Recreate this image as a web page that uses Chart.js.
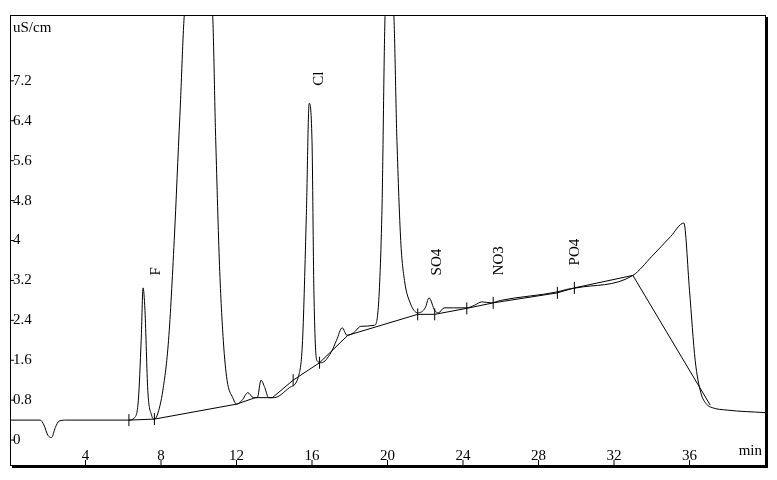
<!DOCTYPE html>
<html>
<head>
<meta charset="utf-8">
<script src="https://cdn.jsdelivr.net/npm/chart.js@4"></script>
<style>
  html, body { margin: 0; padding: 0; background: #fff; }
  #wrap { width: 777px; height: 480px; }
</style>
</head>
<body>
<div id="wrap"><canvas id="chrom"></canvas></div>
<script>
// Chromatogram signal (time in min, conductivity in uS/cm)
const signalX = [0, 1.6, 1.8, 2.0, 2.2, 2.4, 2.6, 3, 6.3, 6.6, 6.8, 6.95, 7.05, 7.15, 7.3, 7.5, 7.65, 7.8, 8.1, 8.4, 8.7, 9.0, 9.3,
  10.7, 10.9, 11.1, 11.3, 11.5, 11.8, 12.0, 12.3, 12.6, 12.9, 13.1, 13.3, 13.5, 13.7, 14.0, 14.8, 15.3, 15.5, 15.7, 15.85, 16.0, 16.1, 16.25,
  16.5, 17.0, 17.3, 17.6, 17.85, 18.2, 18.6, 19.3, 19.5, 19.7, 19.9, 20.3, 20.5, 20.7, 20.9, 21.2, 21.6, 22.0, 22.2, 22.5, 22.7,
  23.0, 23.5, 24.2, 24.6, 25.0, 25.5, 26, 29, 29.5, 30, 33, 34, 35, 35.7, 36.0, 36.3, 36.6, 36.9, 37.2, 38, 40];
const signalY = [0.4, 0.4, 0.3, 0.1, 0.05, 0.25, 0.38, 0.4, 0.4, 0.45, 0.8, 2.0, 3.05, 2.6, 1.0, 0.5, 0.42, 0.5, 1.0, 2.0, 4.0, 6.5, 8.7,
  8.7, 6.0, 3.5, 2.0, 1.2, 0.85, 0.72, 0.8, 0.95, 0.85, 0.85, 1.2, 1.05, 0.85, 0.85, 1.05, 1.3, 2.0, 4.5, 6.75, 6.0, 3.0, 1.6,
  1.55, 1.75, 2.0, 2.25, 2.1, 2.15, 2.28, 2.3, 2.6, 4.5, 8.7, 8.7, 6.0, 4.0, 3.2, 2.75, 2.55, 2.65, 2.85, 2.6, 2.55,
  2.65, 2.65, 2.65, 2.7, 2.77, 2.75, 2.8, 2.97, 3.02, 3.05, 3.3, 3.68, 4.08, 4.35, 3.0, 1.6, 0.95, 0.72, 0.65, 0.6, 0.55];

// Integration baseline
const baseX = [6.3, 7.65, 12.0, 13.0, 13.9, 15.0, 16.4, 17.9, 21.6, 22.5, 24.2, 25.6, 29, 29.9, 33, 37.1];
const baseY = [0.4, 0.42, 0.72, 0.85, 0.85, 1.2, 1.55, 2.1, 2.52, 2.52, 2.64, 2.75, 2.95, 3.05, 3.3, 0.7];

// Peak start/end markers
const markX = [6.3, 7.65, 15.0, 16.4, 21.6, 22.5, 24.2, 25.6, 29, 29.9];
const markY = [0.4, 0.42, 1.2, 1.55, 2.52, 2.52, 2.64, 2.75, 2.95, 3.05];

// Peak names
const peakNames = ['F', 'Cl', 'SO4', 'NO3', 'PO4'];
const peakX = [7.75, 16.4, 22.6, 25.9, 29.95];
const peakY = [3.3, 7.1, 3.3, 3.3, 3.5];

const xTicks = [4, 8, 12, 16, 20, 24, 28, 32, 36];
const yTicks = [0, 0.8, 1.6, 2.4, 3.2, 4, 4.8, 5.6, 6.4, 7.2];

const toPts = (xs, ys) => xs.map((x, i) => ({ x: x, y: ys[i] }));

const FONT = '15px "Liberation Serif", "DejaVu Serif", serif';

// Draws frame, inside tick labels and peak names
const decor = {
  id: 'decor',
  afterDraw(chart) {
    const ctx = chart.ctx;
    const a = chart.chartArea;
    const sx = chart.scales.x, sy = chart.scales.y;
    ctx.save();
    ctx.strokeStyle = '#000';
    ctx.lineWidth = 1;
    ctx.strokeRect(a.left + 0.5, a.top + 0.5, a.right - a.left, a.bottom - a.top);
    ctx.lineWidth = 2;
    ctx.beginPath();
    ctx.moveTo(a.right + 2, a.top + 2);
    ctx.lineTo(a.right + 2, a.bottom + 2);
    ctx.lineTo(a.left + 2, a.bottom + 2);
    ctx.stroke();

    ctx.font = FONT;
    ctx.fillStyle = '#000';
    ctx.lineWidth = 1;
    ctx.textBaseline = 'middle';
    ctx.textAlign = 'left';
    yTicks.forEach(v => {
      const py = sy.getPixelForValue(v);
      ctx.beginPath();
      ctx.moveTo(a.left, py); ctx.lineTo(a.left + 4, py); ctx.stroke();
      ctx.fillText(String(v), a.left + 3, py);
    });
    ctx.textAlign = 'center';
    ctx.textBaseline = 'bottom';
    xTicks.forEach(v => {
      const px = sx.getPixelForValue(v);
      ctx.beginPath();
      ctx.moveTo(px, a.bottom); ctx.lineTo(px, a.bottom - 5); ctx.stroke();
      ctx.fillText(String(v), px, a.bottom - 1);
    });
    ctx.textAlign = 'left';
    ctx.textBaseline = 'top';
    ctx.fillText('uS/cm', a.left + 3, a.top + 6);
    ctx.textAlign = 'right';
    ctx.textBaseline = 'bottom';
    ctx.fillText('min', a.right - 3, a.bottom - 6);

    peakNames.forEach((name, i) => {
      ctx.save();
      ctx.translate(sx.getPixelForValue(peakX[i]), sy.getPixelForValue(peakY[i]));
      ctx.rotate(-Math.PI / 2);
      ctx.textAlign = 'left';
      ctx.textBaseline = 'middle';
      ctx.fillText(name, 0, 0);
      ctx.restore();
    });
    ctx.restore();
  }
};

new Chart(document.getElementById('chrom'), {
  type: 'scatter',
  data: {
    datasets: [
      {
        data: toPts(signalX, signalY),
        showLine: true,
        borderColor: '#000',
        borderWidth: 1,
        pointRadius: 0,
        cubicInterpolationMode: 'monotone'
      },
      {
        data: toPts(baseX, baseY),
        showLine: true,
        borderColor: '#000',
        borderWidth: 1,
        pointRadius: 0
      },
      {
        data: toPts(markX, markY),
        showLine: false,
        pointStyle: 'line',
        rotation: 90,
        pointRadius: 6,
        borderColor: '#000',
        borderWidth: 1
      }
    ]
  },
  options: {
    responsive: true,
    maintainAspectRatio: false,
    animation: false,
    layout: { padding: { left: 10, top: 15, right: 12, bottom: 15 } },
    plugins: { legend: { display: false }, tooltip: { enabled: false } },
    scales: {
      x: { type: 'linear', min: 0, max: 40, display: false },
      y: { type: 'linear', min: -0.5, max: 8.52, display: false }
    }
  },
  plugins: [decor]
});
</script>
</body>
</html>
